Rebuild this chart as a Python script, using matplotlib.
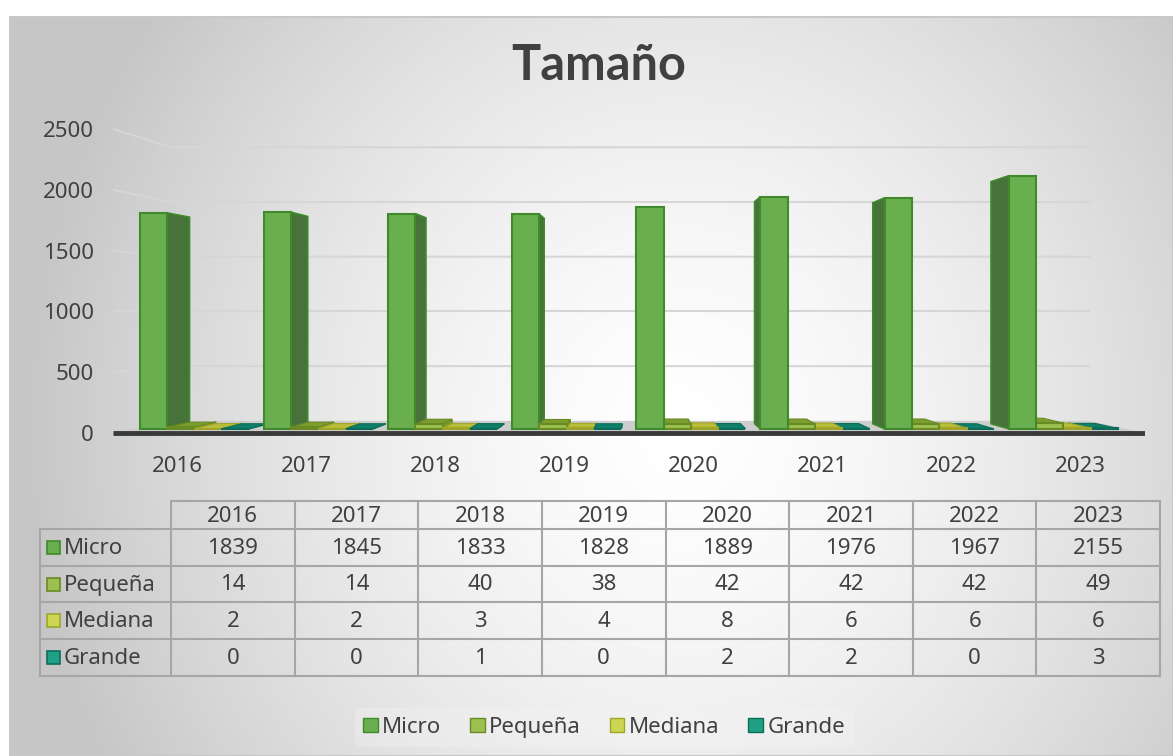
import numpy as np
import matplotlib
matplotlib.use('Agg')
import matplotlib.pyplot as plt
from matplotlib.patches import Polygon, Rectangle, Patch

plt.rcParams['font.family'] = ['Noto Sans', 'DejaVu Sans']

# data
years = ['2016', '2017', '2018', '2019', '2020', '2021', '2022', '2023']
series = ['Micro', 'Pequeña', 'Mediana', 'Grande']
micro = [1839, 1845, 1833, 1828, 1889, 1976, 1967, 2155]
pequena = [14, 14, 40, 38, 42, 42, 42, 49]
mediana = [2, 2, 3, 4, 8, 6, 6, 6]
grande = [0, 0, 1, 0, 2, 2, 0, 3]
values = [micro, pequena, mediana, grande]

# front, side, top, edge
colors = {
    'Micro': ('#6AAF4F', '#47733A', '#5A9A40', '#3F8A2A'),
    'Pequeña': ('#9BC04F', '#7A9A30', '#7C9E2E', '#6A8A25'),
    'Mediana': ('#CDD652', '#AEB52E', '#B8BE38', '#A0A52A'),
    'Grande': ('#22A085', '#0E7A64', '#0F7F6A', '#0B6E5A'),
}
text_col = '#404040'

# fake perspective for the 3d look
XVP, YVP = 3.58, 1000.0
FX, FY = 0.11, 0.10
T0, T1 = 0.34, 0.76
BAR_W = 0.22
OFF0 = -0.445


def proj(x, y, t):
    return (x + t * FX * (XVP - x), y + t * FY * (YVP - y))


fig = plt.figure(figsize=(11.73, 7.56), dpi=100)

# background with gradient, table
bg = fig.add_axes([0, 0, 1, 1])
yy, xx = np.mgrid[17:756, 10:1173]
r = np.clip(np.hypot((xx - 680) / 650.0, (yy - 430) / 700.0), 0, 1)
g = 1 - 0.22 * r ** 1.5
img = np.dstack([g, g, g])
bg.imshow(img, extent=(10, 1173, 756, 17), aspect='auto', zorder=0)
bg.set_xlim(0, 1173)
bg.set_ylim(756, 0)
bg.axis('off')
bg.add_patch(Rectangle((10, 17), 1163, 739, fill=False, edgecolor='#c8c8c8', lw=1.5, zorder=1))

bg.text(599, 65, 'Tamaño', fontsize=35, fontweight='bold', family='Lato', color=text_col,
        ha='center', va='center', zorder=3)

# table
col_w = (1160 - 171) / 8.0
xe = [171 + col_w * j for j in range(9)]
ye = [501, 529, 566, 602, 639, 676]
lc = '#A6A6A6'
bg.plot([171, 1160], [ye[0], ye[0]], color=lc, lw=1.5, zorder=2)
for y in ye[1:]:
    bg.plot([40, 1160], [y, y], color=lc, lw=1.5, zorder=2)
bg.plot([40, 40], [ye[1], ye[-1]], color=lc, lw=1.5, zorder=2)
for x in xe:
    bg.plot([x, x], [ye[0], ye[-1]], color=lc, lw=1.5, zorder=2)
for j, yr in enumerate(years):
    bg.text((xe[j] + xe[j + 1]) / 2, (ye[0] + ye[1]) / 2 + 1, yr, fontsize=16,
            color=text_col, ha='center', va='center', zorder=3)
for k, name in enumerate(series):
    yc = (ye[k + 1] + ye[k + 2]) / 2
    front, side, top, edge = colors[name]
    bg.add_patch(Rectangle((47, yc - 6.5), 13, 13, facecolor=front, edgecolor=edge, lw=1.2, zorder=3))
    bg.text(64, yc + 1, name, fontsize=16, color=text_col, ha='left', va='center', zorder=3)
    for j, v in enumerate(values[k]):
        bg.text((xe[j] + xe[j + 1]) / 2, yc + 1, str(v), fontsize=16,
                color=text_col, ha='center', va='center', zorder=3)

# chart
ax = fig.add_axes([113 / 1173, 1 - 450 / 756, 1032 / 1173, 360 / 756])
ax.patch.set_alpha(0)
ax.set_xlim(-0.5, 7.5)
ax.set_ylim(-140, 2821)
for s in ax.spines.values():
    s.set_visible(False)

ticks = [0, 500, 1000, 1500, 2000, 2500]
ax.set_yticks(ticks)
ax.set_xticks(range(len(years)), years)
ax.tick_params(axis='y', length=0, pad=14, labelsize=16, labelcolor=text_col)
ax.tick_params(axis='x', length=0, pad=4, labelsize=16, labelcolor=text_col)

# back wall gridlines
for v in ticks[1:]:
    p1 = proj(-0.5, v, 1)
    p2 = proj(7.5, v, 1)
    ax.plot([-0.5, p1[0], p2[0]], [v, p1[1], p2[1]], color='#d6d6d6', lw=1.5, zorder=1)

# floor
floor = [(-0.5, 0), (7.5, 0), proj(7.5, 0, 1), proj(-0.5, 0, 1)]
ax.add_patch(Polygon(floor, closed=True, facecolor='#cdcdcd', edgecolor='none', zorder=2))
ax.plot([-0.5, 7.5], [0, 0], color='#3a3a3a', lw=3.5, zorder=2, solid_capstyle='butt')

# bars
bars = []
for k, name in enumerate(series):
    for i, v in enumerate(values[k]):
        xl = i + OFF0 + k * BAR_W
        bars.append((xl, xl + BAR_W, v, name))
bars.sort(key=lambda b: -abs((b[0] + b[1]) / 2 - XVP))

z = 3
for xl, xr, v, name in bars:
    front, side, top, edge = colors[name]
    flb, frb = proj(xl, 0, T0), proj(xr, 0, T0)
    flt, frt = proj(xl, v, T0), proj(xr, v, T0)
    blb, brb = proj(xl, 0, T1), proj(xr, 0, T1)
    blt, brt = proj(xl, v, T1), proj(xr, v, T1)
    if xr < XVP:
        ax.add_patch(Polygon([frb, frt, brt, brb], closed=True, facecolor=side,
                             edgecolor=edge, lw=1.2, zorder=z))
    elif xl > XVP:
        ax.add_patch(Polygon([flb, flt, blt, blb], closed=True, facecolor=side,
                             edgecolor=edge, lw=1.2, zorder=z))
    if v < YVP:
        ax.add_patch(Polygon([flt, frt, brt, blt], closed=True, facecolor=top,
                             edgecolor=edge, lw=0.8, zorder=z + 0.1))
    ax.add_patch(Polygon([flb, frb, frt, flt], closed=True, facecolor=front,
                         edgecolor=edge, lw=1.5, zorder=z + 0.2))
    z += 1

# legend
handles = [Patch(facecolor=colors[n][0], edgecolor=colors[n][3], label=n) for n in series]
leg = fig.legend(handles=handles, loc='center', bbox_to_anchor=(0.515, 0.038), ncol=4,
                 fontsize=16, handlelength=0.65, handleheight=0.65, handletextpad=0.2,
                 columnspacing=1.3, borderpad=0.4, labelcolor=text_col, frameon=True)
leg.get_frame().set_facecolor('#f4f4f4')
leg.get_frame().set_alpha(0.35)
leg.get_frame().set_edgecolor('none')

fig.savefig('out.png', dpi=100)
